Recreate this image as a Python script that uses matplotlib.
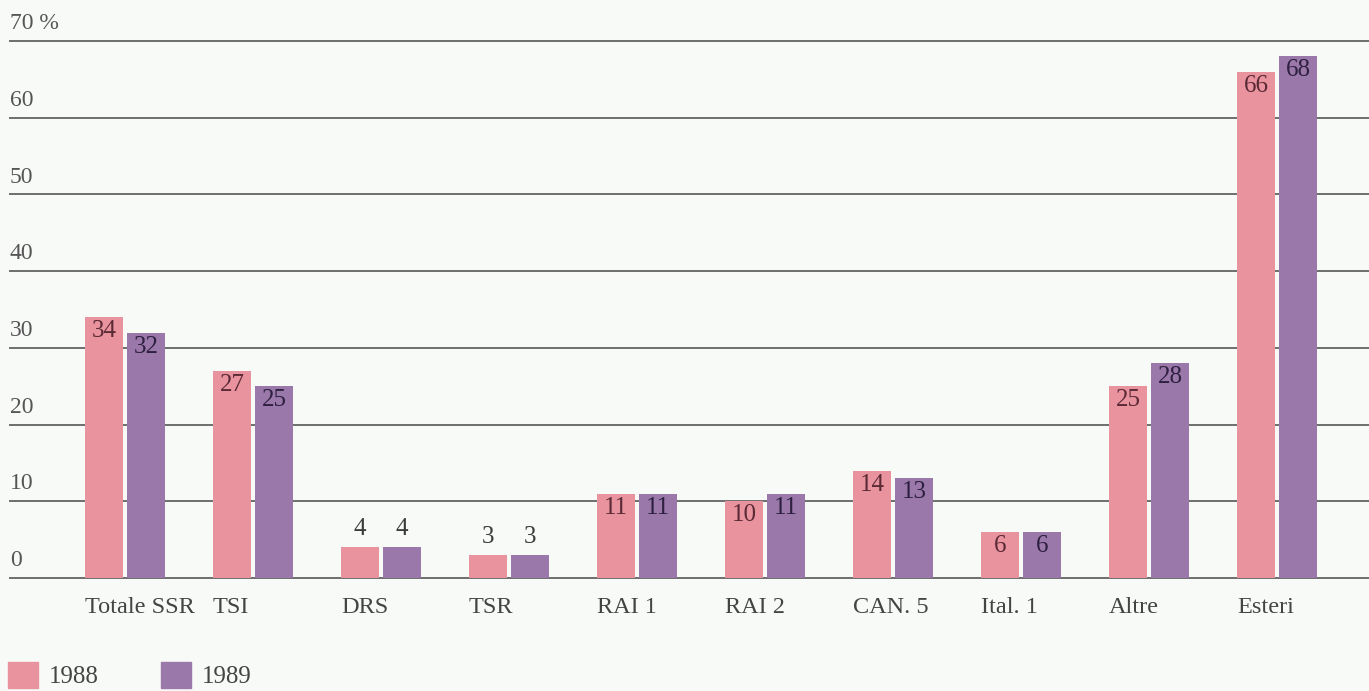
import numpy as np
import matplotlib.pyplot as plt
from matplotlib.patches import Patch
from matplotlib.transforms import blended_transform_factory

plt.rcParams['font.family'] = ['Liberation Serif', 'DejaVu Serif']

categories = ["Totale SSR", "TSI", "DRS", "TSR", "RAI 1", "RAI 2", "CAN. 5", "Ital. 1", "Altre", "Esteri"]
v1988 = [34, 27, 4, 3, 11, 10, 14, 6, 25, 66]
v1989 = [32, 25, 4, 3, 11, 11, 13, 6, 28, 68]
yticks = [0, 10, 20, 30, 40, 50, 60, 70]
ylabels = ["0", "10", "20", "30", "40", "50", "60", "70 %"]

pink = "#e9939f"
purple = "#9a78aa"
bg = "#f8faf8"

fig = plt.figure(figsize=(13.69, 6.91), dpi=100)
fig.patch.set_facecolor(bg)
ax = fig.add_axes([10/1369, 113/691, 1359/1369, 537/691])
ax.set_facecolor(bg)

x = np.arange(len(categories))
w = 0.297
off = 0.164
ax.bar(x - off, v1988, w, color=pink, zorder=3)
ax.bar(x + off, v1989, w, color=purple, zorder=3)

ax.set_xlim(-0.898, 9.719)
ax.set_ylim(0, 70)

# grid lines across the full width
for t in yticks:
    ax.axhline(t, color="#6e6e6e", lw=1.4, zorder=1, clip_on=False)

tr = blended_transform_factory(ax.transAxes, ax.transData)
for t, lab in zip(yticks, ylabels):
    ax.text(0.0, t + 0.9, lab, transform=tr, ha="left", va="bottom",
            fontsize=17, color="#555555")

# value labels
def put_labels(xs, vals, col):
    for xi, v in zip(xs, vals):
        if v >= 6:
            ax.text(xi, v - 0.4, str(v), ha="center", va="top", fontsize=18,
                    color=col, zorder=4)
        else:
            ax.text(xi, v + 0.9, str(v), ha="center", va="bottom", fontsize=18,
                    color="#3a3a3a", zorder=4)

put_labels(x - off, v1988, "#5a2a35")
put_labels(x + off, v1989, "#2e2040")

# category labels, left aligned with the first bar
for xi, c in zip(x, categories):
    ax.text(xi - off - w/2, -3.9, c, ha="left", va="center", fontsize=17.5,
            color="#444444", clip_on=False)

ax.set_xticks([])
ax.set_yticks([])
for s in ax.spines.values():
    s.set_visible(False)

handles = [Patch(color=pink, label="1988"), Patch(color=purple, label="1989")]
fig.legend(handles=handles, loc="lower left", bbox_to_anchor=(0.006, 0.004),
           ncol=2, frameon=False, fontsize=18, handlelength=1.2,
           handleheight=1.2, handletextpad=0.42, columnspacing=2.5,
           borderpad=0.0, borderaxespad=0.0, labelcolor="#444444")

plt.savefig("out.png", dpi=100, facecolor=bg)
